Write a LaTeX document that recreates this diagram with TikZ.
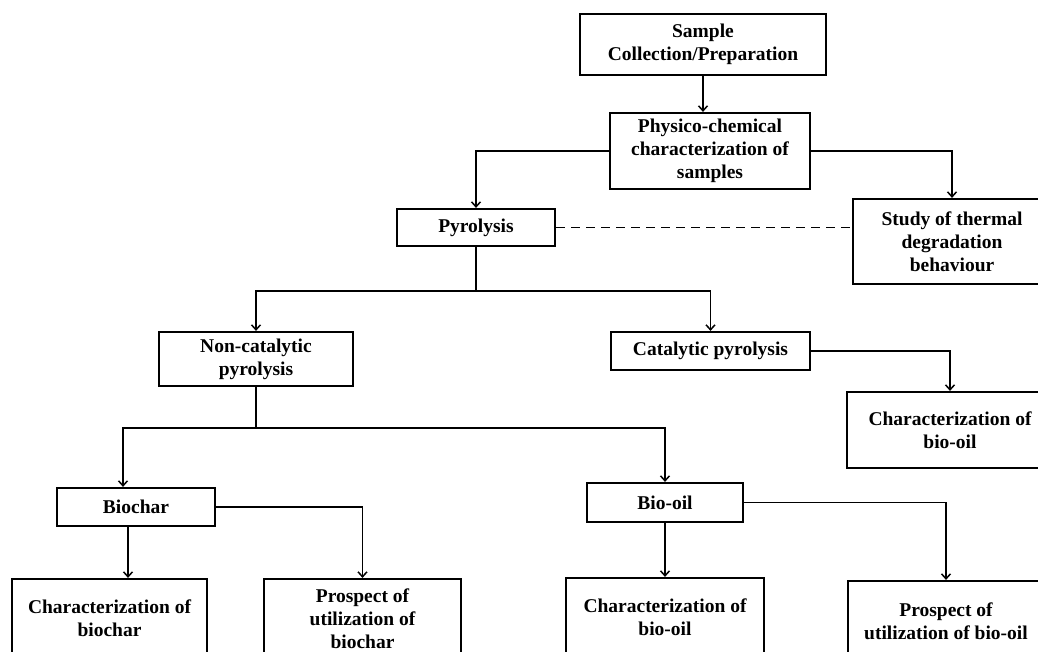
\documentclass[tikz,border=0pt]{standalone}
\usepackage{fontspec}
\setmainfont{Liberation Serif}
\usetikzlibrary{arrows.meta}
\tikzset{
  stage/.style={draw, line width=2.2pt, inner sep=0pt, align=center,
    font=\fontsize{19.5}{23}\selectfont\bfseries},
  link/.style={line width=1.5pt},
  arr/.style={link, -{Straight Barb[length=5pt,width=9pt,line width=1.5pt]}},
  pending/.style={link, line width=1.7pt, dash pattern=on 9pt off 6pt}
}
\begin{document}
\begin{tikzpicture}[x=1pt,y=-1pt]
\useasboundingbox (0,0) rectangle (1038,651);
\clip (0,0) rectangle (1038,651);
% process stages
\node[stage, minimum width=246pt, minimum height=61pt] (sample) at (703,44.5) {Sample\\Collection/Preparation};
\node[stage, minimum width=200pt, minimum height=76pt] (phys) at (710,151) {Physico-chemical\\characterization of\\samples};
\node[stage, minimum width=158pt, minimum height=37pt] (pyro) at (476,227.5) {Pyrolysis};
\node[stage, minimum width=198pt, minimum height=85pt] (study) at (952,241.5) {Study of thermal\\degradation\\behaviour};
\node[stage, minimum width=194pt, minimum height=54pt] (noncat) at (256,359) {Non-catalytic\\pyrolysis};
\node[stage, minimum width=199pt, minimum height=38pt] (cat) at (710.5,351) {Catalytic pyrolysis};
\node[stage, minimum width=206pt, minimum height=76pt] (catoil) at (950,430) {Characterization of\\bio-oil};
\node[stage, minimum width=158pt, minimum height=38pt] (biochar) at (136,507) {Biochar};
\node[stage, minimum width=156pt, minimum height=39pt] (biooil) at (665,502.5) {Bio-oil};
\node[stage, minimum width=195pt, minimum height=78pt] (charbc) at (109.5,618) {Characterization of\\biochar};
\node[stage, minimum width=197pt, minimum height=80pt] (prosbc) at (362.5,619) {Prospect of\\utilization of\\biochar};
\node[stage, minimum width=198pt, minimum height=78pt] (charbo) at (665,617) {Characterization of\\bio-oil};
\node[stage, minimum width=196pt, minimum height=80pt] (prosbo) at (946,621) {Prospect of\\utilization of bio-oil};
% junctions of the branching lines
\coordinate (jp) at (476,291);
\coordinate (jn) at (256,428);
% connectors
\draw[arr] (sample.south) -- (sample.south |- phys.north);
\draw[arr] (phys.west) -| (pyro.north);
\draw[arr] (phys.east) -| (study.north);
\draw[pending] (pyro.east) -- (pyro.east -| study.west);
\draw[link] (pyro) -- (jp);
\draw[arr] (jp) -| (noncat.north);
\draw[arr] (jp) -| (cat.north);
\draw[arr] (cat.east) -| (catoil.north);
\draw[link] (noncat) -- (jn);
\draw[arr] (jn) -| ([xshift=-13pt]biochar.north);
\draw[arr] (jn) -| (biooil.north);
\draw[arr] ([xshift=-8pt]biochar.south) -- ([xshift=-8pt]biochar.south |- charbc.north);
\draw[arr] (biochar.east) -| (prosbc.north);
\draw[arr] (biooil) -- (charbo);
\draw[arr] (biooil.east) -| (prosbo.north);
\end{tikzpicture}
\end{document}
